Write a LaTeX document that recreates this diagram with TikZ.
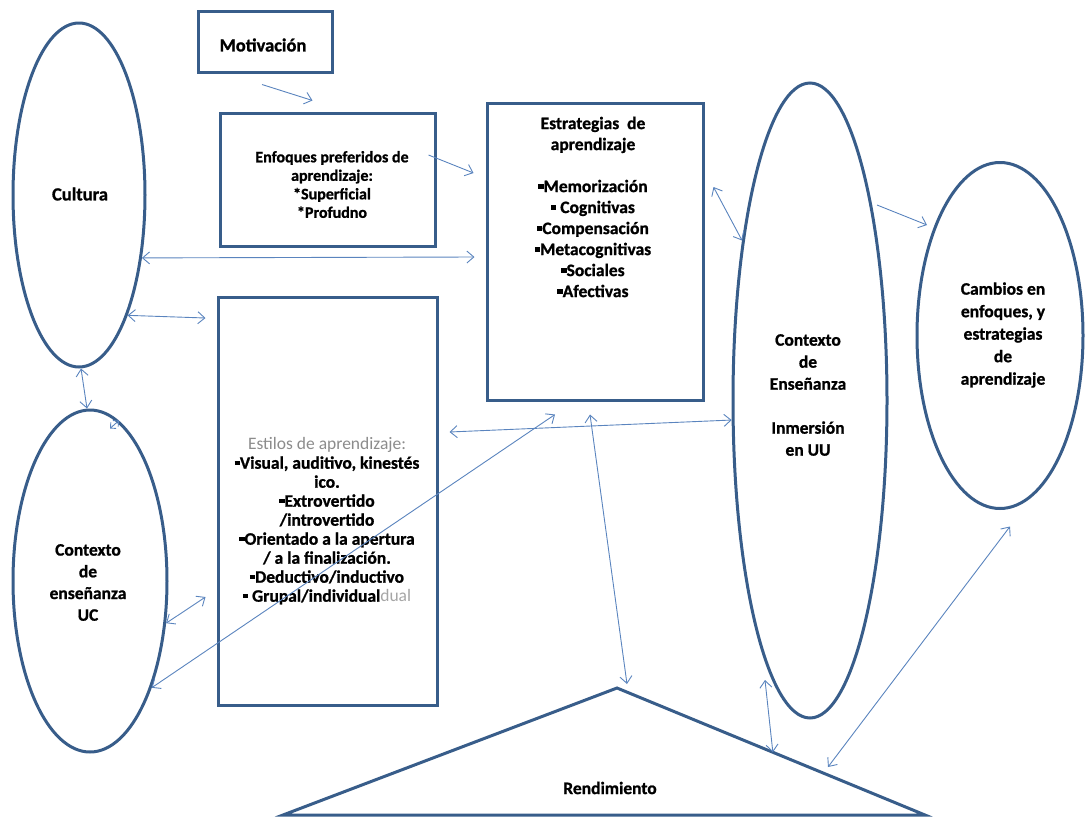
\documentclass[tikz,border=0pt]{standalone}
\usepackage{fontspec}
\setmainfont{Carlito}[BoldFeatures={FakeBold=1}]
\usetikzlibrary{shapes.geometric,arrows.meta,calc}
\definecolor{shapeline}{RGB}{56,93,138}
\definecolor{connline}{RGB}{90,132,190}
% small square bullet
\newcommand{\sqb}{\rule[0.2em]{0.3em}{0.26em}}

\begin{document}
\begin{tikzpicture}[x=1pt,y=-1pt,
  box/.style={draw=shapeline,line width=3pt,inner sep=0pt,fill=white},
  oval/.style={ellipse,draw=shapeline,line width=3pt,inner sep=0pt},
  txt/.style={font=\bfseries\fontsize{17.5}{#1}\selectfont,align=center,inner sep=0pt},
  txt/.default=20,
  conn/.style={draw=connline,line width=0.9pt},
  both/.style={conn,{Straight Barb[length=7pt,width=12pt]}-{Straight Barb[length=7pt,width=12pt]}},
  one/.style={conn,-{Straight Barb[length=7pt,width=12pt]}}
  ]
\useasboundingbox (0,0) rectangle (1088,820);

% shapes
\node[oval,minimum width=132pt,minimum height=344pt] (cult) at (79,195) {};
\node[oval,minimum width=154pt,minimum height=342pt] (uc) at (90,581) {};
\node[oval,minimum width=154pt,minimum height=635pt] (uu) at (810,400.5) {};
\node[oval,minimum width=166pt,minimum height=346pt] (camb) at (1000,335.5) {};
\node[box,minimum width=134pt,minimum height=61pt] (mot) at (265,41.5) {};
\node[box,minimum width=215pt,minimum height=133pt] (enf) at (327.5,179.5) {};
\node[box,minimum width=216pt,minimum height=297pt] (estr) at (595,251.5) {};
\node[box,minimum width=219pt,minimum height=408pt] (estl) at (327.5,501) {};

% triangle
\coordinate (tl) at (283,815);
\coordinate (apex) at (617,688);
\coordinate (tr) at (925,815);
\draw[draw=shapeline,line width=3pt,line join=miter] (tl) -- (apex) -- (tr) -- cycle;

% texts
\node[txt,font=\bfseries\fontsize{18.5}{20}\selectfont] (cultT) at (80,194) {Cultura};
\node[txt=21.7] (ucT) at (88,582.5) {Contexto\\de\\enseñanza\\UC};
\node[txt,font=\bfseries\fontsize{18.5}{20}\selectfont] (motT) at (263,45) {Motivación};
\node[txt,font=\bfseries\fontsize{16}{18.5}\selectfont] (enfT) at (332,184.5) {Enfoques preferidos de\\aprendizaje:\\*Superficial\\*Profudno};
\node[txt=21] (estrT) at (593,207) {Estrategias\ \ de\\aprendizaje\\[21pt]
  \sqb Memorización\\\sqb\ Cognitivas\\\sqb Compensación\\\sqb Metacognitivas\\\sqb Sociales\\\sqb Afectivas};
\node[txt=19] (estlT) at (327,521) {{\color{black!45}\mdseries Estilos de aprendizaje:}\\
  \sqb Visual, auditivo, kinestés\\ico.\\\sqb Extrovertido\\/introvertido\\
  \sqb Orientado a la apertura\\/ a la finalización.\\\sqb Deductivo/inductivo\\
  \sqb\ Grupal/individual{\color{black!35}\mdseries dual}};
\node[txt=22] (uuT) at (808,395) {Contexto\\de\\Enseñanza\\[22pt]Inmersión\\en UU};
\node[txt=22.5] (cambT) at (1003,335) {Cambios en\\enfoques, y\\estrategias\\de\\aprendizaje};
\node[txt] (rendT) at (610,788) {Rendimiento};

% connectors
\draw[one] ([shift={(-3,11)}]mot.south) -- ([shift={(-15,-11)}]enf.north);
\draw[one] ([shift={(-8,-24.5)}]enf.east) -- ([shift={(-12,-78.5)}]estr.west);
\draw[both] (cult.-45) -- ([shift={(-11,5.5)}]estr.west);
\draw[both] (cult.-68) -- ([shift={(-11,-183)}]estl.west);
\draw[both] ([shift={(2,0)}]cult.south) -- ([shift={(-3,0)}]uc.north);
\draw[conn,{Straight Barb[length=4pt,width=8pt]}-{Straight Barb[length=4pt,width=8pt]}] ([shift={(20,20)}]uc.north) -- ([shift={(29,12)}]uc.north);
\draw[both] (uc.-29) -- ([shift={(-11,96)}]estl.west);
\draw[both] (uc.-60) -- ([shift={(-40,13)}]estr.south);
\draw[both] ([shift={(11,-69)}]estl.east) -- (uu.194);
\draw[both] ([shift={(9,-64.5)}]estr.east) -- (uu.113);
\draw[one] ([shift={(67,-195.5)}]uu.center) -- ([shift={(-73,-110.5)}]camb.center);
\draw[both] ([shift={(-5,13)}]estr.south) -- ([shift={(10,-4)}]apex);
\draw[both] ([shift={(-45,279.5)}]uu.center) -- ($(apex)!0.506!(tr)$);
\draw[both] ([shift={(10,16.5)}]camb.south) -- ($(apex)!0.685!(tr)+(0,-8)$);
\end{tikzpicture}
\end{document}
